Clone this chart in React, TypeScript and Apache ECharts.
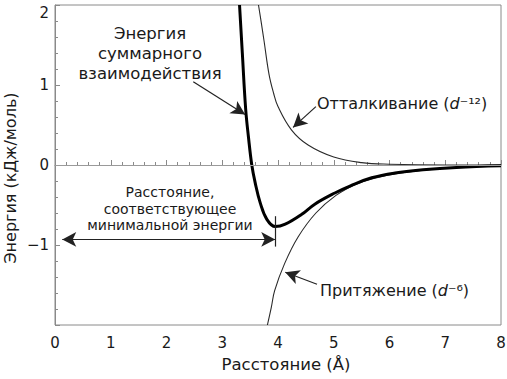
import React, { useEffect, useRef } from "react";
import * as echarts from "echarts";

// Distance (Å) / energy (kJ/mol) pairs
const totalEnergy: [number, number][] = [
  [3.31, 2.0], [3.36, 1.4], [3.42, 0.7], [3.47, 0.35], [3.53, 0.0],
  [3.59, -0.22], [3.68, -0.47], [3.8, -0.68], [3.95, -0.77], [4.13, -0.74],
  [4.42, -0.62], [4.66, -0.49], [5.02, -0.35], [5.3, -0.26], [5.68, -0.16],
  [6.1, -0.1], [6.6, -0.06], [7.2, -0.03], [8.0, -0.01],
];
const repulsion: [number, number][] = [
  [3.65, 2.0], [3.7, 1.78], [3.75, 1.55], [3.84, 1.13], [3.92, 0.9],
  [4.0, 0.73], [4.24, 0.44], [4.54, 0.25], [5.0, 0.1], [5.5, 0.03],
  [6.0, 0.01], [7.0, 0.0], [8.0, 0.0],
];
const attraction: [number, number][] = [
  [3.81, -2.0], [3.88, -1.78], [3.94, -1.57], [4.12, -1.23], [4.36, -0.9],
  [4.68, -0.6], [5.04, -0.38], [5.4, -0.24], [5.7, -0.17], [6.2, -0.1],
  [7.0, -0.04], [8.0, -0.01],
];

const xTitle = "Расстояние (Å)";
const yTitle = "Энергия (кДж/моль)";
const totalLabel = "Энергия\nсуммарного\nвзаимодействия";
const distanceLabel = "Расстояние,\nсоответствующее\nминимальной энергии";
const repulsionText = "Отталкивание (";
const attractionText = "Притяжение (";
const repulsionPower = "⁻¹²";
const attractionPower = "⁻⁶";

// annotation arrows in data coordinates
const totalArrow: [number, number][] = [[2.48, 1.04], [3.41, 0.63]];
const repulsionArrow: [number, number][] = [[4.68, 0.73], [4.27, 0.47]];
const attractionArrow: [number, number][] = [[4.7, -1.49], [4.13, -1.34]];
const distanceArrow: [number, number][] = [[0.13, -0.93], [3.95, -0.93]];
const minMarker: [number, number][] = [[3.95, -0.64], [3.95, -1.02]];

const FONT = "DejaVu Sans";
const TEXT = "#1a1a1a";
const AXIS = "#8a8a8a";

export default function App() {
  const ref = useRef<HTMLDivElement>(null);
  useEffect(() => {
    if (!ref.current) return;
    const chart = echarts.init(ref.current, undefined, { renderer: "svg" });
    const arrowLine = (pts: [number, number][], startSym: string, endSym: string) => [
      { coord: pts[0], symbol: startSym },
      { coord: pts[1], symbol: endSym },
    ];
    const richStyle = {
      n: { fontSize: 16, fontFamily: FONT, fill: TEXT, color: TEXT },
      i: { fontSize: 16, fontFamily: FONT, fill: TEXT, color: TEXT, fontStyle: "italic" },
      s: { fontSize: 16, fontFamily: FONT, fill: TEXT, color: TEXT },
    };
    chart.setOption({
      animation: false,
      backgroundColor: "#fff",
      textStyle: { fontFamily: FONT },
      grid: {
        left: 55, right: 6, top: 5, bottom: 54,
        outerBoundsMode: "none", containLabel: false,
        show: true, borderColor: AXIS, borderWidth: 1,
      },
      xAxis: {
        type: "value", min: 0, max: 8, interval: 1,
        axisLine: { lineStyle: { color: AXIS } },
        axisTick: { inside: true, length: 5, lineStyle: { color: AXIS } },
        minorTick: { show: true, splitNumber: 5, length: 3, lineStyle: { color: AXIS } },
        splitLine: { show: false },
        axisLabel: { fontSize: 15, color: TEXT, margin: 10, fontFamily: FONT },
      },
      yAxis: {
        type: "value", min: -2, max: 2, interval: 1,
        axisLine: { show: true, lineStyle: { color: AXIS } },
        axisTick: { show: true, inside: true, length: 5, lineStyle: { color: AXIS } },
        minorTick: { show: true, splitNumber: 5, length: 3, lineStyle: { color: AXIS } },
        splitLine: { show: false },
        axisLabel: {
          fontSize: 15, color: TEXT, margin: 6, fontFamily: FONT,
          verticalAlignMaxLabel: "top",
          formatter: (v: number) => (v === -2 ? "" : String(v).replace("-", "−")),
        },
      },
      series: [
        {
          type: "line", data: repulsion, smooth: 0.4, symbol: "none",
          lineStyle: { color: "#2a2a2a", width: 1.1 },
          markLine: {
            silent: true, symbol: "none", label: { show: false },
            lineStyle: { color: "#9a9a9a", width: 1, type: "solid" },
            data: [{ yAxis: 0 }],
          },
        },
        {
          type: "line", data: attraction, smooth: 0.4, symbol: "none",
          lineStyle: { color: "#2a2a2a", width: 1.1 },
        },
        {
          type: "line", data: totalEnergy, smooth: 0.4, symbol: "none",
          lineStyle: { color: "#000", width: 3 },
          markLine: {
            silent: true, label: { show: false }, symbolSize: [11, 14],
            lineStyle: { color: "#222", width: 1.2, type: "solid" },
            data: [
              arrowLine(totalArrow, "none", "arrow"),
              arrowLine(repulsionArrow, "none", "arrow"),
              arrowLine(attractionArrow, "none", "arrow"),
              arrowLine(distanceArrow, "arrow", "arrow"),
              arrowLine(minMarker, "none", "none"),
            ],
          },
        },
      ],
      graphic: [
        {
          type: "text", x: 286, y: 364,
          style: {
            text: xTitle, fontSize: 16.5, fill: TEXT, fontFamily: FONT,
            align: "center", verticalAlign: "middle",
          },
        },
        {
          type: "text", x: 10, y: 178, rotation: Math.PI / 2,
          style: {
            text: yTitle, fontSize: 16, fill: TEXT, fontFamily: FONT,
            align: "center", verticalAlign: "middle",
          },
        },
        {
          type: "text", x: 150, y: 23,
          style: {
            text: totalLabel, fontSize: 16.5, lineHeight: 20, fill: TEXT,
            fontFamily: FONT, align: "center", verticalAlign: "top",
          },
        },
        {
          type: "text", x: 170, y: 184,
          style: {
            text: distanceLabel, fontSize: 14, lineHeight: 16.5, fill: TEXT,
            fontFamily: FONT, align: "center", verticalAlign: "top",
          },
        },
        {
          type: "text", x: 317, y: 103,
          style: {
            text: `{n|${repulsionText}}{i|d}{s|${repulsionPower}}{n|)}`,
            fontFamily: FONT, align: "left", verticalAlign: "middle", fill: TEXT,
            rich: richStyle,
          },
        },
        {
          type: "text", x: 320, y: 290,
          style: {
            text: `{n|${attractionText}}{i|d}{s|${attractionPower}}{n|)}`,
            fontFamily: FONT, align: "left", verticalAlign: "middle", fill: TEXT,
            rich: richStyle,
          },
        },
      ],
    });
    return () => chart.dispose();
  }, []);
  return (
    <div
      ref={ref}
      style={{ width: 507, height: 379, position: "absolute", left: 0, top: 0 }}
    />
  );
}
